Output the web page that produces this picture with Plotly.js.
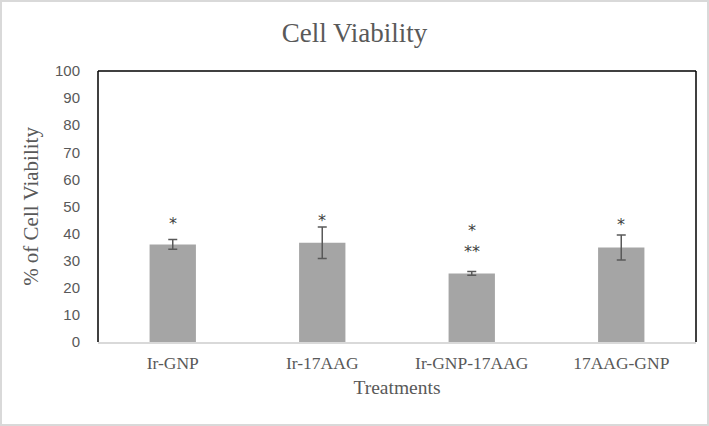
<!DOCTYPE html>
<html><head><meta charset="utf-8">
<script src="https://cdn.plot.ly/plotly-3.0.1.min.js"></script>
<style>body{margin:0;background:#fff}#c{width:709px;height:426px}</style>
</head><body><div id="c"></div>
<script>
const categories = ["Ir-GNP", "Ir-17AAG", "Ir-GNP-17AAG", "17AAG-GNP"];
const viability = [36.0, 36.6, 25.3, 34.9];
const errors = [1.8, 5.8, 0.7, 4.6];
const starLabels = ["*", "*", "*", "*"];
const starY = [43.9, 44.8, 41.3, 43.2];
const extraLabels = ["", "", "**", ""];
const extraY = [null, null, 33.3, null];
const yTicks = [0,10,20,30,40,50,60,70,80,90,100];

const L=98, R=13, T=71, B=84, W=709, H=426;
const pw = W-L-R, ph = H-T-B;

const ann = [];
categories.forEach((c,i)=>{
  ann.push({x:c, y:starY[i], xref:'x', yref:'y', text:starLabels[i], showarrow:false,
    font:{family:'DejaVu Sans, Arial', size:16, color:'#404040'}});
  if (extraLabels[i]) ann.push({x:c, y:extraY[i], xref:'x', yref:'y', text:extraLabels[i], showarrow:false,
    font:{family:'DejaVu Sans, Arial', size:16, color:'#404040'}});
});

const serif = 'Liberation Serif, Times New Roman, serif';
const trace = {
  type:'bar', x:categories, y:viability,
  marker:{color:'#a5a5a5'},
  error_y:{type:'data', array:errors, visible:true, color:'#595959', thickness:1.5, width:4.5},
  hoverinfo:'none'
};
const layout = {
  width:W, height:H,
  margin:{l:L, r:R, t:T, b:B, pad:0},
  paper_bgcolor:'#fff', plot_bgcolor:'#fff',
  showlegend:false,
  bargap:0.69,
  title:{text:'Cell Viability', x:0.5, xanchor:'center', y:1-33/H, yanchor:'middle',
    font:{family:serif, size:27, color:'#595959'}},
  xaxis:{type:'category', showgrid:false, zeroline:false, showline:true, linecolor:'#d9d9d9', linewidth:1.5,
    ticks:'', ticklabelstandoff:4, tickfont:{family:serif, size:17.5, color:'#595959'},
    title:{text:'Treatments', standoff:9, font:{family:serif, size:19.5, color:'#595959'}}},
  yaxis:{range:[0,100], tickvals:yTicks, showgrid:false, zeroline:false, showline:false, ticks:'',
    ticklabelstandoff:17,
    tickfont:{family:'Liberation Sans, Arial, sans-serif', size:15, color:'#595959'},
    title:{text:'% of Cell Viability', standoff:10, font:{family:serif, size:21, color:'#595959'}}},
  annotations:ann,
  shapes:[
    {type:'line', xref:'paper', yref:'paper', x0:0, x1:0, y0:0, y1:1, line:{color:'#000', width:1.5}},
    {type:'line', xref:'paper', yref:'paper', x0:0, x1:1, y0:1, y1:1, line:{color:'#000', width:1.5}},
    {type:'line', xref:'paper', yref:'paper', x0:1, x1:1, y0:0, y1:1, line:{color:'#000', width:1.5}},
    {type:'rect', xref:'paper', yref:'paper', x0:-(L-1)/pw, x1:1+(R-1)/pw, y0:-(B-1)/ph, y1:1+(T-1)/ph,
      line:{color:'#d9d9d9', width:2}}
  ]
};
Plotly.newPlot('c',[trace],layout,{staticPlot:true});
</script></body></html>
